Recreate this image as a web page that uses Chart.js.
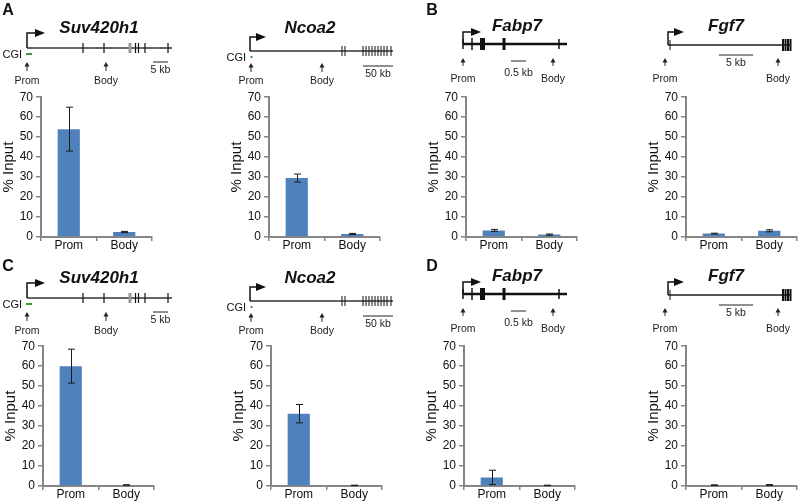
<!DOCTYPE html>
<html>
<head>
<meta charset="utf-8">
<script src="https://cdn.jsdelivr.net/npm/chart.js@4.4.1/dist/chart.umd.min.js"></script>
<style>
html, body { margin: 0; padding: 0; background: #fff; overflow: hidden; }
#page { position: relative; width: 800px; height: 504px; font-family: "Liberation Sans", Arial, sans-serif; color: #111; }
.lbl { position: absolute; white-space: nowrap; line-height: 1; transform: translate(-50%, -50%); }
</style>
</head>
<body>
<div id="page"><canvas id="art" width="800" height="504" style="position:absolute;left:0;top:0"></canvas></div>
<script>
// categories and axis
const categories = ['Prom', 'Body'];
const yMax = 70;
const yStep = 10;

// % input, mean and error
const suvA = [54.0, 2.5],  suvAErr = [11.0, 0.3];
const ncoaA = [29.5, 1.5], ncoaAErr = [2.0, 0.3];
const fabpB = [3.3, 1.2],  fabpBErr = [0.5, 0.3];
const fgfB = [1.7, 3.1],   fgfBErr = [0.2, 0.5];
const suvC = [60.0, 0.5],  suvCErr = [8.5, 0.1];
const ncoaC = [36.2, 0.3], ncoaCErr = [4.6, 0.1];
const fabpD = [4.3, 0.3],  fabpDErr = [3.6, 0.1];
const fgfD = [0.4, 0.5],   fgfDErr = [0.2, 0.2];

const FONT = '"Liberation Sans", Arial, sans-serif';
const page = document.getElementById('page');

const panels = [
    { vals: suvA,  errs: suvAErr,  axisX: 41,  top: 97,  zero: 237 },
    { vals: ncoaA, errs: ncoaAErr, axisX: 269, top: 97,  zero: 237 },
    { vals: fabpB, errs: fabpBErr, axisX: 466, top: 97,  zero: 237 },
    { vals: fgfB,  errs: fgfBErr,  axisX: 686, top: 97,  zero: 237 },
    { vals: suvC,  errs: suvCErr,  axisX: 43,  top: 346, zero: 486 },
    { vals: ncoaC, errs: ncoaCErr, axisX: 271, top: 346, zero: 486 },
    { vals: fabpD, errs: fabpDErr, axisX: 464, top: 346, zero: 486 },
    { vals: fgfD,  errs: fgfDErr,  axisX: 686, top: 346, zero: 486 }
];

const errorBars = {
    id: 'errorBars',
    afterDatasetsDraw(chart, args, opts) {
        const ctx = chart.ctx;
        const x = chart.scales.x, y = chart.scales.y;
        const means = chart.data.datasets[0].data;
        ctx.save();
        ctx.strokeStyle = '#1a1a1a';
        ctx.lineWidth = 1;
        means.forEach((m, i) => {
            const e = opts.errors[i];
            const px = Math.round(x.getPixelForValue(i)) + 0.5;
            const hi = y.getPixelForValue(m + e);
            const lo = y.getPixelForValue(Math.max(m - e, 0));
            ctx.beginPath();
            ctx.moveTo(px, hi); ctx.lineTo(px, lo);
            ctx.moveTo(px - 3.5, hi); ctx.lineTo(px + 3.5, hi);
            ctx.moveTo(px - 3.5, lo); ctx.lineTo(px + 3.5, lo);
            ctx.stroke();
        });
        ctx.restore();
    }
};

function makeChart(p) {
    const padTop = 10, xAxisH = 20, yAxisW = 41, plotW = 111, padRight = 3;
    const w = yAxisW + plotW + padRight;
    const h = padTop + (p.zero - p.top) + xAxisH;
    const c = document.createElement('canvas');
    c.width = w; c.height = h;
    c.style.cssText = `position:absolute;left:${p.axisX - yAxisW}px;top:${p.top - padTop}px;width:${w}px;height:${h}px`;
    page.appendChild(c);
    new Chart(c, {
        type: 'bar',
        data: {
            labels: categories,
            datasets: [{
                data: p.vals,
                backgroundColor: '#4F81BD',
                borderWidth: 0,
                barPercentage: 0.4,
                categoryPercentage: 1
            }]
        },
        options: {
            responsive: false,
            animation: false,
            layout: { padding: { top: padTop, right: padRight, left: 0, bottom: 0 } },
            plugins: {
                legend: { display: false },
                tooltip: { enabled: false },
                errorBars: { errors: p.errs }
            },
            scales: {
                x: {
                    grid: { drawOnChartArea: false, drawTicks: true, tickLength: 4, tickColor: '#868686', lineWidth: 1.5, offset: true },
                    border: { color: '#868686', width: 2 },
                    ticks: { color: '#111', font: { size: 12, family: FONT }, padding: -3, maxRotation: 0 },
                    afterFit(s) { s.height = xAxisH; }
                },
                y: {
                    min: 0,
                    max: yMax,
                    ticks: { stepSize: yStep, color: '#111', font: { size: 12, family: FONT }, padding: 3 },
                    grid: { drawOnChartArea: false, tickLength: 5, tickColor: '#868686', lineWidth: 1.5 },
                    border: { color: '#868686', width: 2 },
                    title: { display: true, text: '% Input', color: '#111', font: { size: 15, family: FONT }, padding: 0 },
                    afterFit(s) { s.width = yAxisW; }
                }
            }
        },
        plugins: [errorBars]
    });
}

panels.forEach(makeChart);

// ---- gene diagrams (schematic) ----
const art = document.getElementById('art').getContext('2d');

function text(str, x, y, css, anchor) {
    const d = document.createElement('div');
    d.className = 'lbl';
    d.textContent = str;
    d.style.left = x + 'px';
    d.style.top = y + 'px';
    d.style.cssText += css || '';
    if (anchor === 'right') d.style.transform = 'translate(-100%, -50%)';
    page.appendChild(d);
}

function seg(x1, y1, x2, y2, w, color) {
    art.strokeStyle = color;
    art.lineWidth = w;
    art.beginPath();
    art.moveTo(x1, y1);
    art.lineTo(x2, y2);
    art.stroke();
}

function upArrow(x, yBot, yTop) {
    seg(x, yBot, x, yTop + 2, 1, '#222');
    art.fillStyle = '#222';
    art.beginPath();
    art.moveTo(x, yTop);
    art.lineTo(x - 2.5, yTop + 4.5);
    art.lineTo(x + 2.5, yTop + 4.5);
    art.closePath();
    art.fill();
}

function tss(x, y, top, end) {
    art.strokeStyle = '#111';
    art.lineWidth = 1.5;
    art.beginPath();
    art.moveTo(x, y);
    art.lineTo(x, top);
    art.lineTo(end - 6, top);
    art.stroke();
    art.fillStyle = '#111';
    art.beginPath();
    art.moveTo(end + 3, top);
    art.lineTo(end - 7, top - 4);
    art.lineTo(end - 7, top + 4);
    art.closePath();
    art.fill();
}

const genes = [
    { name: 'Suv420h1', tx: 99, ty: 27, y: 48, x0: 27, x1: 172, lc: '#666', lw: 2, tssTop: 33, tssEnd: 42,
      exons: [[83, 1.2, 5], [104, 1.2, 5], [130, 3, 5, '#999'], [135.5, 1.2, 5], [138.5, 1.2, 5], [145, 1.2, 5], [168, 1.2, 5]],
      cgi: { tx: 22, y: 54, x0: 26, x1: 32 }, prom: 27, body: 106, arrowBot: 71, arrowTop: 62, ly: 80,
      scale: { x0: 153, x1: 168, y: 62, ly: 69, label: '5 kb' } },
    { name: 'Ncoa2', tx: 310, ty: 27, y: 51, x0: 250, x1: 393, lc: '#666', lw: 2, tssTop: 37, tssEnd: 263,
      exons: [[342, 1, 5], [345, 1, 5], [363, 1, 5], [366, 1, 5], [369, 1, 5], [372, 1, 5], [375, 1, 5], [378, 1, 5], [381, 1, 5], [384, 1, 5], [387, 1, 5], [391, 1, 5]],
      cgi: { tx: 246, y: 57, x0: 250.5, x1: 252.5 }, prom: 251, body: 322, arrowBot: 72, arrowTop: 63, ly: 80,
      scale: { x0: 363, x1: 393, y: 66, ly: 73, label: '50 kb' } },
    { name: 'Fabp7', tx: 517, ty: 25, y: 44, x0: 463, x1: 567, lc: '#111', lw: 2.5, tssTop: 32, tssEnd: 478,
      exons: [[463, 1.5, 5], [472, 1.5, 6], [482.5, 5, 6], [504, 3, 6], [559, 1.5, 5]],
      cgi: null, prom: 463, body: 553, arrowBot: 66, arrowTop: 58, ly: 78,
      scale: { x0: 511, x1: 526, y: 61, ly: 72, label: '0.5 kb' } },
    { name: 'Fgf7', tx: 726, ty: 25, y: 45, x0: 668, x1: 790, lc: '#555', lw: 2, tssTop: 32, tssEnd: 681,
      exons: [[670, 1, 5], [783, 2, 6], [785.5, 2, 6], [788, 2, 6], [790.5, 2, 6]],
      cgi: null, prom: 665, body: 778, arrowBot: 66, arrowTop: 58, ly: 78,
      scale: { x0: 719, x1: 753, y: 55, ly: 62, label: '5 kb' } }
];

function drawGene(g, dy) {
    text(g.name, g.tx, g.ty + dy, 'font-size:17px;font-weight:bold;font-style:italic;');
    seg(g.x0, g.y + dy, g.x1, g.y + dy, g.lw, g.lc);
    g.exons.forEach(e => seg(e[0], g.y + dy - e[2], e[0], g.y + dy + e[2], e[1], e[3] || '#111'));
    tss(g.x0, g.y + dy, g.tssTop + dy, g.tssEnd);
    if (g.cgi) {
        text('CGI', g.cgi.tx, g.cgi.y + dy, 'font-size:11px;', 'right');
        seg(g.cgi.x0, g.cgi.y + dy, g.cgi.x1, g.cgi.y + dy, 2, '#3c9a3c');
    }
    upArrow(g.prom, g.arrowBot + dy, g.arrowTop + dy);
    upArrow(g.body, g.arrowBot + dy, g.arrowTop + dy);
    text('Prom', g.prom, g.ly + dy, 'font-size:10.5px;color:#222;');
    text('Body', g.body, g.ly + dy, 'font-size:10.5px;color:#222;');
    seg(g.scale.x0, g.scale.y + dy, g.scale.x1, g.scale.y + dy, 1, '#222');
    text(g.scale.label, (g.scale.x0 + g.scale.x1) / 2, g.scale.ly + dy, 'font-size:10.5px;color:#222;');
}

genes.forEach(g => drawGene(g, 0));
genes.forEach(g => drawGene(g, 250));

const letterCss = 'font-size:16px;font-weight:bold;';
text('A', 8, 10, letterCss);
text('B', 432, 10, letterCss);
text('C', 8, 266, letterCss);
text('D', 432, 266, letterCss);
</script>
</body>
</html>
